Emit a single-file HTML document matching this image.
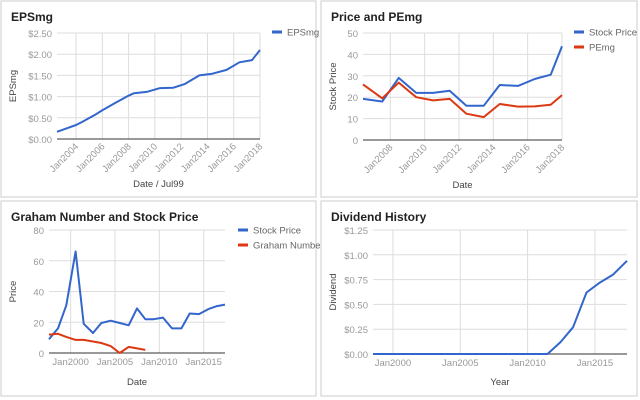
<!DOCTYPE html>
<html><head><meta charset="utf-8"><style>
body{margin:0;background:#fff;width:640px;height:400px;overflow:hidden;font-family:"Liberation Sans",Arial,sans-serif}
svg{display:block}
</style></head><body>
<svg id="c" width="640" height="400" xmlns="http://www.w3.org/2000/svg"></svg>
<script>
// Panel 1: EPSmg
const epsYears=[2002.55,2004.0,2004.45,2005.45,2005.95,2006.97,2007.98,2008.41,2009.38,2010.39,2011.41,2012.29,2013.38,2014.37,2015.46,2016.43,2017.39,2018.0];
const epsValues=[0.17,0.33,0.40,0.57,0.67,0.85,1.02,1.08,1.11,1.20,1.21,1.30,1.50,1.54,1.63,1.81,1.86,2.10];
const epsTicks=[0,0.5,1,1.5,2,2.5];
const epsXTicks=[2004,2006,2008,2010,2012,2014,2016,2018];
// Panel 2: Price and PEmg
const pYears=[2006.41,2007.53,2008.49,2009.51,2010.49,2011.46,2012.43,2013.44,2014.37,2015.44,2016.41,2017.34,2018.0];
const pPrice=[19.2,18,29,22,22,23,16,16,25.7,25.3,28.5,30.5,43.8];
const pPEmg=[26,19.5,26.8,20,18.5,19.2,12.3,10.7,16.8,15.6,15.7,16.5,21];
const pTicks=[0,10,20,30,40,50];
const pXTicks=[2008,2010,2012,2014,2016,2018];
// Panel 3: Graham
const gYears=[1997.56,1998.57,1999.51,2000.56,2001.47,2002.52,2003.46,2004.51,2005.53,2006.54,2007.48,2008.42,2009.36,2010.41,2011.43,2012.48,2013.42,2014.47,2015.49,2016.5,2017.4];
const gPrice=[9,16,31,66,19,13,19.5,21,19.5,18,29,22,22,23,16,16,25.7,25.3,28.5,30.5,31.5];
const gGraham=[12,12.5,10.5,8.5,8.5,7.5,6.5,4.5,0,4,3,2];
const gTicks=[0,20,40,60,80];
const gXTicks=[2000,2005,2010,2015];
// Panel 4: Dividend
const dYears=[1998.52,2000.5,2005.5,2010.5,2011.48,2012.44,2013.38,2014.37,2015.36,2016.35,2017.38];
const dValues=[0,0,0,0,0,0.12,0.27,0.62,0.72,0.80,0.94];
const dTicks=[0,0.25,0.5,0.75,1,1.25];
const dXTicks=[2000,2005,2010,2015];

const NS="http://www.w3.org/2000/svg";
const svg=document.getElementById('c');
function mk(tag,attrs,parent,txt){const e=document.createElementNS(NS,tag);for(const k in attrs)e.setAttribute(k,attrs[k]);if(txt!==undefined)e.textContent=txt;(parent||svg).appendChild(e);return e;}

function panel(o){
  const g=mk('g',{});
  
  
  const box=mk('rect',{x:o.bx,y:o.by,width:o.bw,height:o.bh,fill:'#fff',stroke:'#ccc','stroke-width':1},g);
  
  
  const t=mk('text',{x:o.bx+10,y:o.by+20,'font-size':'12','font-weight':'bold',fill:'#222'},g,o.title);
  
  
  const xs=v=>o.x0+(v-o.xmin)/(o.xmax-o.xmin)*(o.x1-o.x0);
  const ys=v=>o.y1-(v-o.ymin)/(o.ymax-o.ymin)*(o.y1-o.y0);
  o.yTicks.forEach(v=>{
    const l=mk('line',{x1:o.x0,x2:o.x1,y1:ys(v),y2:ys(v),stroke:v===o.ymin?'#333':'#ddd','stroke-width':1},g);
    
    
    const tx=mk('text',{x:o.x0-5,y:ys(v)+4,'font-size':'9.5','text-anchor':'end',fill:'#999'},g,o.yfmt(v));
    
    
  });
  o.xTicks.forEach(v=>{
    const X=xs(v);
    const l=mk('line',{x1:X,x2:X,y1:o.y0,y2:o.y1,stroke:'#ddd','stroke-width':1},g);
    
    
    let tx;
    if(o.rot){tx=mk('text',{x:X+3,y:o.y1+8,'font-size':'9.5','text-anchor':'end',fill:'#999',transform:`rotate(-45 ${X+3} ${o.y1+8})`},g,'Jan'+v);}
    else{tx=mk('text',{x:X,y:o.y1+12,'font-size':'9.5','text-anchor':'middle',fill:'#999'},g,'Jan'+v);}
    
    
  });
  const base=mk('line',{x1:o.x0,x2:o.x1,y1:o.y1,y2:o.y1,stroke:'#333','stroke-width':1},g);
  
  
  const xt=mk('text',{x:(o.x0+o.x1)/2,y:o.xty,'font-size':'9.5','text-anchor':'middle',fill:'#444'},g,o.xTitle);
  
  
  const ytx=o.bx+15,yty=(o.y0+o.y1)/2;
  const yt=mk('text',{x:ytx,y:yty,'font-size':'9.5','text-anchor':'middle',fill:'#444',transform:`rotate(-90 ${ytx} ${yty})`},g,o.yTitle);
  
  
  o.series.forEach((s,i)=>{
    const pts=s.xs.slice(0,s.ys.length).map((x,j)=>xs(x).toFixed(1)+','+ys(s.ys[j]).toFixed(1)).join(' ');
    const p=mk('polyline',{points:pts,fill:'none',stroke:s.color,'stroke-width':2,'stroke-linejoin':'round'},g);
    
    
    if(o.legend){
      const ly=o.legend[1]+i*15;
      const lm=mk('line',{x1:o.legend[0],x2:o.legend[0]+10,y1:ly,y2:ly,stroke:s.color,'stroke-width':3},g);
      
      
      const lt=mk('text',{x:o.legend[0]+15,y:ly+3.5,'font-size':'9.5',fill:'#666'},g,s.label);
      
      
    }
  });
}
const B='#3366cc',R='#dc3912';
const usd=v=>'$'+v.toFixed(2);
panel({name:'epsmg-chart',title:'EPSmg',bx:1,by:1,bw:315,bh:196,x0:57,x1:260,y0:33,y1:139,xmin:2002.55,xmax:2018.0,ymin:0,ymax:2.5,
 yTicks:epsTicks,xTicks:epsXTicks,yfmt:usd,rot:true,xTitle:'Date / Jul99',xty:187,yTitle:'EPSmg',legend:[272,32],
 series:[{key:'epsmg',label:'EPSmg',color:B,xs:epsYears,ys:epsValues}]});
panel({name:'price-pemg-chart',title:'Price and PEmg',bx:321,by:1,bw:316,bh:196,x0:363,x1:562,y0:33,y1:140,xmin:2006.41,xmax:2018.0,ymin:0,ymax:50,
 yTicks:pTicks,xTicks:pXTicks,yfmt:v=>String(v),rot:true,xTitle:'Date',xty:188,yTitle:'Stock Price',legend:[574,32],
 series:[{key:'stock-price',label:'Stock Price',color:B,xs:pYears,ys:pPrice},{key:'pemg',label:'PEmg',color:R,xs:pYears,ys:pPEmg}]});
panel({name:'graham-chart',title:'Graham Number and Stock Price',bx:1,by:201,bw:315,bh:195,x0:49,x1:225,y0:230,y1:353,xmin:1997.56,xmax:2017.4,ymin:0,ymax:80,
 yTicks:gTicks,xTicks:gXTicks,yfmt:v=>String(v),rot:false,xTitle:'Date',xty:385,yTitle:'Price',legend:[238,230],
 series:[{key:'stock-price',label:'Stock Price',color:B,xs:gYears,ys:gPrice},{key:'graham-number',label:'Graham Number',color:R,xs:gYears,ys:gGraham}]});
panel({name:'dividend-chart',title:'Dividend History',bx:321,by:201,bw:316,bh:195,x0:373,x1:627,y0:230,y1:354,xmin:1998.52,xmax:2017.38,ymin:0,ymax:1.25,
 yTicks:dTicks,xTicks:dXTicks,yfmt:usd,rot:false,xTitle:'Year',xty:385,yTitle:'Dividend',legend:null,
 series:[{key:'dividend',label:'Dividend',color:B,xs:dYears,ys:dValues}]});
</script>
</body></html>
